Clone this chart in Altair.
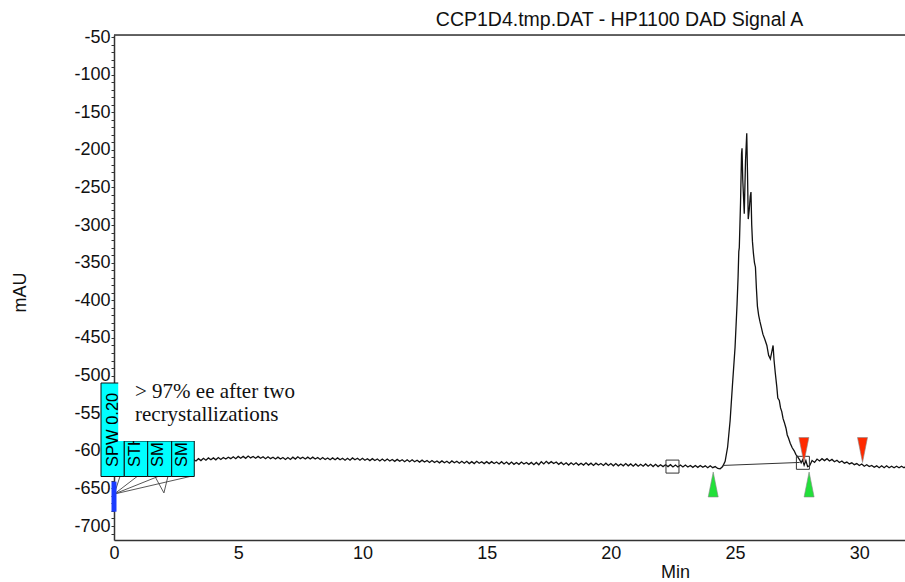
import altair as alt
import pandas as pd

# ---------------- data ----------------
X_MAX = 31.84
Y_MIN, Y_MAX = -718.6, -47.3

# baseline signal sampled every 0.1 min from 0.0 to 24.4 min (mAU)
baseline_mau = [
    -611, -613.5, -611, -613.5, -611, -613.5, -611, -613.5, -611, -613.5,
    -611, -613.5, -611, -613.5, -611, -614, -611, -613.5, -611.5, -614,
    -611.5, -614, -611, -613.5, -611.5, -614, -611, -613.5, -611, -613.5,
    -611, -614, -611.5, -613.5, -610.5, -613, -610, -612.5, -609.5, -612,
    -609.5, -612, -609, -611.5, -609, -611, -608.5, -610.5, -608, -610.5,
    -607.5, -610, -607.5, -610, -607, -609.5, -607.5, -610, -607.5, -610,
    -608, -610.5, -608, -610.5, -608.5, -611, -608.5, -611, -609, -611.5,
    -609, -611.5, -608.5, -611, -608, -610.5, -608.5, -611, -608.5, -611,
    -608.5, -611, -609, -611.5, -609, -611.5, -609.5, -612, -609.5, -612,
    -609.5, -612, -610, -612.5, -610, -612.5, -609.5, -612, -610, -612.5,
    -610, -612.5, -610.5, -613, -610.5, -613, -611, -613.5, -611, -613.5,
    -611, -613.5, -611.5, -614, -611.5, -614, -612, -614.5, -612, -614.5,
    -612, -614.5, -612.5, -615, -612.5, -615, -613, -615.5, -613, -615.5,
    -613.5, -616, -613.5, -616, -614, -616.5, -613.5, -616, -614, -616.5,
    -614, -616.5, -614, -617, -614.5, -617, -614, -616.5, -614.5, -617,
    -614.5, -617, -614.5, -617, -615, -617.5, -614.5, -617.5, -615, -618,
    -615, -618, -615.5, -618, -615, -617.5, -615.5, -618, -615.5, -618.5,
    -615.5, -618.5, -614.5, -617.5, -614, -617, -614.5, -617, -615, -618,
    -615.5, -618.5, -616, -619, -616, -618.5, -616, -619, -616.5, -619,
    -616, -619, -616.5, -619.5, -616.5, -619, -617, -619.5, -616.5, -619.5,
    -617, -620, -617, -620, -617.5, -620, -617, -620, -617.5, -620.5,
    -617.5, -620.5, -618, -620.5, -617.5, -620.5, -618, -621, -618, -621,
    -618.5, -621, -618.5, -621, -618.5, -621.5, -619, -621.5, -619, -621.5,
    -619, -621.5, -619.5, -622, -619.5, -622, -619.5, -622, -620, -622.5,
    -620, -622.5, -621, -623.5, -624,
]
baseline_min = [round(i * 0.1, 2) for i in range(len(baseline_mau))]

# main peak (min, mAU)
peak_min = [24.5, 24.6, 24.7, 24.8, 24.9, 25.0, 25.08, 25.12, 25.15, 25.17,
            25.22, 25.26, 25.28, 25.31, 25.34, 25.37, 25.42, 25.47, 25.50, 25.53,
            25.57, 25.61, 25.64, 25.67, 25.70, 25.74, 25.78, 25.82, 25.86, 25.90,
            25.95, 26.0, 26.05, 26.12, 26.2, 26.28, 26.35, 26.42, 26.47, 26.53,
            26.57, 26.62, 26.68, 26.72, 26.78, 26.83, 26.88, 26.93, 26.98, 27.05,
            27.1, 27.15, 27.22, 27.3, 27.38, 27.45, 27.52, 27.6, 27.66]
peak_mau = [-621, -614, -595, -560, -510, -462, -405, -370, -335, -330,
            -270, -205, -198, -240, -262, -285, -215, -178, -230, -292,
            -280, -262, -256, -300, -322, -338, -350, -356, -385, -408,
            -420, -428, -435, -445, -452, -460, -473, -478, -470, -460,
            -480, -497, -515, -530, -533, -543, -548, -557, -562, -570,
            -579, -583, -590, -596, -600, -605, -608, -612, -616]

# tail after the peak (min, mAU)
tail_min = [27.72, 27.78, 27.85, 27.92, 28.0, 28.1, 28.2, 28.3, 28.4, 28.5,
            28.6, 28.7, 28.8, 28.9, 29.0, 29.1, 29.2, 29.3, 29.4, 29.5,
            29.6, 29.7, 29.8, 29.9, 30.0, 30.1, 30.2, 30.3, 30.4, 30.5,
            30.6, 30.7, 30.8, 30.9, 31.0, 31.1, 31.2, 31.3, 31.4, 31.5,
            31.6, 31.7, 31.8, 31.9]
tail_mau = [-612, -619, -613, -621, -620, -613, -615.5, -611, -613.5, -610.5,
            -613, -610.5, -613.5, -611.5, -614.5, -612.5, -615.5, -613.5, -616.5, -615,
            -617.5, -616, -618.5, -617, -619.5, -617.5, -620.5, -618.5, -621, -619.5,
            -622, -620, -622.5, -620, -622.5, -620, -622.5, -620.5, -622.5, -620.5,
            -622.5, -620.5, -622.5, -620.5]

# integration baseline
integ_min = [24.5, 27.6]
integ_mau = [-619.5, -615.5]

# event markers
square_min = [22.48, 27.73]
square_mau = [-621, -616]
green_min = [24.12, 27.98]
green_mau = [-644.8, -644.8]
red_min = [27.77, 30.13]
red_mau = [-599, -599]

# timetable boxes
box_labels = ["SPW 0.20", "STH", "SMI", "SMI"]
box_x1 = [-0.523, 0.414, 1.356, 2.322]
box_x2 = [0.414, 1.356, 2.322, 3.231]
box_y1 = [-509.9, -587.0, -587.0, -587.0]
box_y2 = [-634.2, -634.2, -634.2, -634.2]
box_text_x = [-0.05, 0.845, 1.77, 2.74]
box_text_y = [-621.6, -621.6, -621.6, -621.6]

# connector lines from the timetable boxes to the start
fan_x1 = [0.01, 0.01, 0.01, 0.01, 1.65, 2.01]
fan_y1 = [-657.5, -657.5, -657.5, -657.5, -634.2, -656.0]
fan_x2 = [0.24, 0.93, 1.77, 3.06, 2.01, 2.17]
fan_y2 = [-634.2, -634.2, -634.2, -634.2, -656.0, -634.2]

# injection bar
inj_min = [0.0]
inj_y1 = [-641.0]
inj_y2 = [-681.0]

# annotation
note_lines = ["> 97% ee after two", "recrystallizations"]
note_x = [0.845, 0.845]
note_y = [-530.3, -560.4]
note_bg = {"x": [0.17], "x2": [7.5], "y": [-505.0], "y2": [-587.0]}

title_text = "CCP1D4.tmp.DAT - HP1100 DAD Signal A"

# ---------------- chart ----------------
FONT = "Liberation Sans"

xscale = alt.Scale(domain=[0, X_MAX], nice=False, zero=False)
yscale = alt.Scale(domain=[Y_MIN, Y_MAX], nice=False, zero=False)

xaxis = alt.Axis(values=[0, 5, 10, 15, 20, 25, 30], tickSize=0, labelPadding=4,
                 labelFont=FONT, labelFontSize=18, labelColor="#111",
                 domainColor="#333", domainWidth=1.5, grid=False,
                 labelFlush=False, labelOverlap=False,
                 title="Min", titleFont=FONT, titleFontSize=18, titleFontWeight="normal",
                 titleColor="#111", titleX=561, titleY=32, titleAlign="center",
                 titleBaseline="middle")
yaxis = alt.Axis(values=list(range(-710, -40, 10)),
                 labelExpr="datum.value % 50 == 0 ? toString(datum.value) : ''",
                 tickSize=3, tickColor="#333", labelPadding=1,
                 labelFont=FONT, labelFontSize=18, labelColor="#111",
                 domainColor="#333", domainWidth=1.5, grid=False,
                 labelFlush=False, labelOverlap=False, labelBound=False,
                 title="mAU", titleFont=FONT, titleFontSize=18, titleFontWeight="normal",
                 titleColor="#111", titleAngle=270, titleX=-94, titleY=257,
                 titleAlign="center", titleBaseline="middle")


def X(field="t"):
    return alt.X(f"{field}:Q", scale=xscale, axis=xaxis)


def Y(field="v"):
    return alt.Y(f"{field}:Q", scale=yscale, axis=yaxis)


trace_t = baseline_min + peak_min + tail_min
trace_v = baseline_mau + peak_mau + tail_mau
trace_df = pd.DataFrame({"t": trace_t, "v": trace_v, "i": list(range(len(trace_t)))})

trace = alt.Chart(trace_df).mark_line(color="#111", strokeWidth=1.3, clip=True).encode(
    x=X(), y=Y(), order="i:Q")

integ = alt.Chart(pd.DataFrame({"t": integ_min, "v": integ_mau})).mark_line(
    color="#333", strokeWidth=1).encode(x=X(), y=Y())

top_rule = alt.Chart(pd.DataFrame({"v": [Y_MAX]})).mark_rule(
    color="#333", strokeWidth=1.5).encode(y=Y())

fan = alt.Chart(pd.DataFrame({"t": fan_x1, "v": fan_y1, "t2": fan_x2, "v2": fan_y2})).mark_rule(
    color="#444", strokeWidth=0.9).encode(x=X(), y=Y(), x2="t2:Q", y2="v2:Q")

inj = alt.Chart(pd.DataFrame({"t": inj_min, "v": inj_y1, "v2": inj_y2})).mark_rule(
    color="#1a3cff", strokeWidth=5).encode(x=X(), y=Y(), y2="v2:Q")

boxes = alt.Chart(pd.DataFrame({"t": box_x1, "t2": box_x2, "v": box_y1, "v2": box_y2})).mark_rect(
    fill="#00ffff", stroke="#111", strokeWidth=1).encode(x=X(), x2="t2:Q", y=Y(), y2="v2:Q")

box_txt = alt.Chart(pd.DataFrame({"t": box_text_x, "v": box_text_y, "label": box_labels})).mark_text(
    angle=270, align="left", baseline="middle", font=FONT, fontSize=16.5, color="#000").encode(
    x=X(), y=Y(), text="label:N")

note_bg_layer = alt.Chart(pd.DataFrame({"t": note_bg["x"], "t2": note_bg["x2"],
                                        "v": note_bg["y"], "v2": note_bg["y2"]})).mark_rect(
    fill="white").encode(x=X(), x2="t2:Q", y=Y(), y2="v2:Q")

note = alt.Chart(pd.DataFrame({"t": note_x, "v": note_y, "label": note_lines})).mark_text(
    align="left", baseline="alphabetic", font="Liberation Serif", fontSize=21, color="#111").encode(
    x=X(), y=Y(), text="label:N")

squares = alt.Chart(pd.DataFrame({"t": square_min, "v": square_mau})).mark_point(
    shape="square", size=169, filled=False, color="#333", strokeWidth=1, opacity=1).encode(x=X(), y=Y())

green = alt.Chart(pd.DataFrame({"t": green_min, "v": green_mau})).mark_point(
    shape="M 0 -1 L 0.4 1 L -0.4 1 Z", size=625, filled=True, fill="#22e03a",
    stroke="#888", strokeWidth=0.6, opacity=1).encode(x=X(), y=Y())

red = alt.Chart(pd.DataFrame({"t": red_min, "v": red_mau})).mark_point(
    shape="M -0.4 -1 L 0.4 -1 L 0 1 Z", size=625, filled=True, fill="#ff2a00",
    stroke="#888", strokeWidth=0.6, opacity=1).encode(x=X(), y=Y())

chart = alt.layer(
    trace, integ, top_rule, fan, inj, boxes, box_txt, note_bg_layer, note, squares, green, red
).properties(
    width=791, height=505,
    title=alt.TitleParams(title_text, font=FONT, fontSize=19.5, fontWeight="normal",
                          color="#111", anchor="middle", frame="group", dx=110, offset=-2),
    autosize=alt.AutoSizeParams(type="none"),
    padding={"left": 114, "top": 35, "right": 0, "bottom": 42},
).configure_view(stroke=None).configure(background="white")

chart.save("out.html", embed_options={"renderer": "svg", "actions": False})
